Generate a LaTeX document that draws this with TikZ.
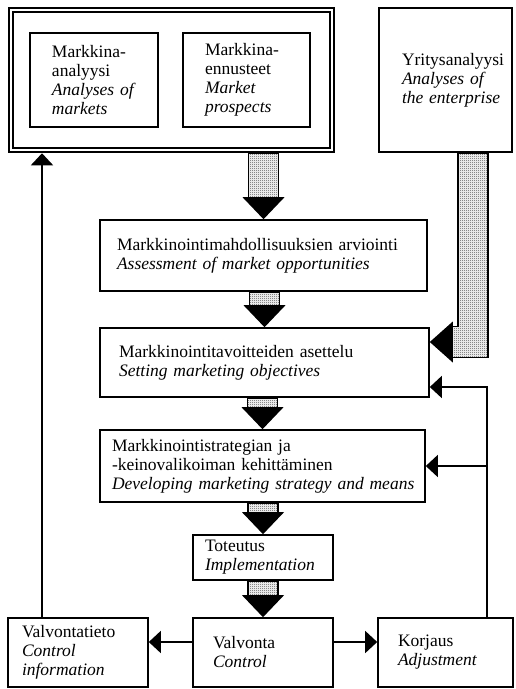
\documentclass[tikz,border=0pt]{standalone}
\usepackage{fontspec}
\setmainfont{Liberation Serif}
\usetikzlibrary{arrows.meta,calc,patterns.meta}

\tikzdeclarepattern{
  name=halftone, type=uncolored,
  bottom left={(0pt,0pt)}, top right={(2pt,2pt)}, tile size={(2pt,2pt)},
  code={
    \pgfpathrectangle{\pgfpointorigin}{\pgfpoint{1pt}{1pt}}
    \pgfpathrectangle{\pgfpoint{1pt}{1pt}}{\pgfpoint{1pt}{1pt}}
    \pgfusepath{fill}
  }
}

\tikzset{
  box/.style n args={3}{draw, line width=1.6pt, inner sep=0pt, align=left,
    text width=#1, minimum height=#3, execute at begin node={\leftskip=#2}},
  outerbox/.style={draw, double, line width=2pt, double distance=2.5pt,
    minimum width=321pt, minimum height=140pt, inner sep=0pt, outer sep=3.25pt},
  shaft/.style={draw, line width=1.4pt, pattern=halftone, pattern color=black!72},
  flow/.style={line width=1.4pt, -{Triangle[length=12pt,width=22pt]}}
}

\begin{document}
\begin{tikzpicture}[x=1pt,y=-1pt,font=\fontsize{17.5}{19}\selectfont]
  \useasboundingbox (0,0) rectangle (516,689);

  \node[outerbox] (markets) at (171.5,80) {};
  \node[box={128pt}{22pt}{94pt}] (analysis) at (94,80) {Markkina-\\analyysi\\\textit{Analyses of}\\\textit{markets}};
  \node[box={127pt}{22pt}{94pt}] (prospects) at (246.5,80) {Markkina-\\ennusteet\\\textit{Market}\\\textit{prospects}};
  \node[box={133pt}{23pt}{144pt}] (enterprise) at (445.5,80) {Yritysanalyysi\\\textit{Analyses of}\\\textit{the enterprise}};

  \node[box={327pt}{17pt}{71pt}] (assess) at (263.5,255.5) {Markkinointimahdollisuuksien arviointi\\\textit{Assessment of market opportunities}};
  \node[box={329pt}{19pt}{69pt}] (objectives) at (264.5,362.5) {Markkinointitavoitteiden asettelu\\\textit{Setting marketing objectives}};
  \node[box={325pt}{12pt}{72pt}] (strategy) at (262.5,466) {Markkinointistrategian ja\\-keinovalikoiman kehittäminen\\\textit{Developing marketing strategy and means}};
  \node[box={140pt}{12pt}{45pt}] (impl) at (263,557.5) {Toteutus\\\textit{Implementation}};

  \node[box={140pt}{20pt}{69pt}] (control) at (263,652.5) {Valvonta\\\textit{Control}};
  \node[box={140pt}{14pt}{69pt}] (info) at (78,652.5) {Valvontatieto\\\textit{Control}\\\textit{information}};
  \node[box={135pt}{20pt}{69pt}] (adjust) at (445.5,652.5) {Korjaus\\\textit{Adjustment}};

  % main flow
  \foreach \src/\dst in {markets/assess, assess/objectives, objectives/strategy, strategy/impl, impl/control}{
    \draw[shaft] ($(\dst.north |- \src.south)+(-15,0)$) rectangle ($(\dst.north)+(15,-22)$);
    \fill ($(\dst.north)+(-21,-22)$) -- ($(\dst.north)+(21,-22)$) -- (\dst.north) -- cycle;
  }

  % enterprise analysis into objectives
  \coordinate (tip) at ([yshift=20.5pt]objectives.east);
  \coordinate (drop) at ([xshift=12.5pt]enterprise.south);
  \draw[shaft] (drop) -- ([xshift=42.5pt]enterprise.south) |- ($(tip)+(21,15.5)$)
    -- ($(tip)+(21,-15.5)$) -| (drop) -- cycle;
  \fill ($(tip)+(23,-20.5)$) -- ($(tip)+(23,20.5)$) -- (tip) -- cycle;

  % control
  \draw[flow] ([yshift=10.5pt]control.west) -- ([yshift=10.5pt]info.east);
  \draw[flow] ([yshift=10.5pt]control.east) -- ([yshift=10.5pt]adjust.west);
  \coordinate (up) at ([xshift=-36pt]info.north);
  \draw[flow] (up) -- (up |- markets.south);
  \coordinate (fb) at ([xshift=41.5pt]adjust.north);
  \draw[flow] (fb) |- ([yshift=-24.5pt]objectives.east);
  \draw[flow] (fb |- strategy.east) -- (strategy.east);
\end{tikzpicture}
\end{document}
